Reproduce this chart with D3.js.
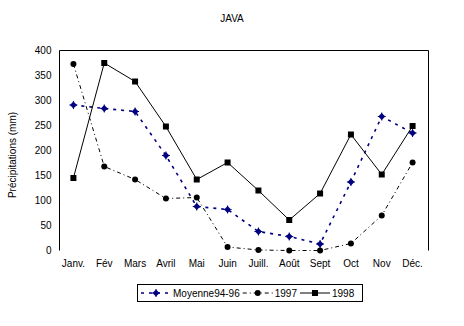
<!DOCTYPE html>
<html>
<head>
<meta charset="utf-8">
<script src="https://cdn.jsdelivr.net/npm/d3@7"></script>
<style>
	body { margin: 0; background: #fff; }
	svg { display: block; font-family: "Liberation Sans", Arial, sans-serif; }
	.axis text { font-size: 10px; fill: #000; }
</style>
</head>
<body>
<svg class="chart"></svg>
<script>
var width = 464,
	height = 326;

var months = ["Janv.", "Fév", "Mars", "Avril", "Mai", "Juin", "Juill.", "Août", "Sept", "Oct", "Nov", "Déc."];
var moyenne = [291, 284, 278, 190, 88, 82, 38, 28, 13, 137, 268, 235];
var y1997 = [373, 168, 142, 104, 106, 7, 1, 0, 0, 14, 70, 176];
var y1998 = [145, 375, 338, 248, 142, 176, 120, 61, 114, 232, 152, 249];
var yTicks = [0, 50, 100, 150, 200, 250, 300, 350, 400];

var plotLeft = 59.5, plotRight = 428.5, plotTop = 50.5, plotBottom = 250.5;

var x = d3.scaleBand()
	.domain(months)
	.range([58, 428]);

var y = d3.scaleLinear()
	.domain([0, 400])
	.range([plotBottom, plotTop]);

var chart = d3.select(".chart")
	.attr("width", width)
	.attr("height", height);

chart.append("text")
	.attr("x", 232)
	.attr("y", 22)
	.attr("text-anchor", "middle")
	.style("font-size", "10px")
	.text("JAVA");

// frame: top, left, right only
chart.append("path")
	.attr("d", "M" + plotLeft + "," + plotBottom + "V" + plotTop + "H" + plotRight + "V" + plotBottom)
	.attr("fill", "none")
	.attr("stroke", "#000");

chart.append("g")
	.attr("class", "axis")
	.attr("transform", "translate(" + plotLeft + ",0)")
	.call(d3.axisLeft(y).tickValues(yTicks).tickSize(0).tickPadding(8))
	.call(function(g) { g.select(".domain").remove(); });

chart.append("g")
	.attr("class", "axis")
	.attr("transform", "translate(0," + plotBottom + ")")
	.call(d3.axisBottom(x).tickSize(0).tickPadding(9))
	.call(function(g) { g.select(".domain").remove(); });

chart.append("text")
	.attr("transform", "translate(16,155) rotate(-90)")
	.attr("text-anchor", "middle")
	.style("font-size", "10px")
	.text("Précipitations (mm)");

var series = [
	{ name: "Moyenne94-96", values: moyenne, color: "#000080", width: 1.6, dash: "3,5", marker: "diamond" },
	{ name: "1997", values: y1997, color: "#000", width: 1, dash: "4,3,1,3", marker: "circle" },
	{ name: "1998", values: y1998, color: "#000", width: 1, dash: null, marker: "square" }
];

var line = d3.line()
	.x(function(d, i) { return x(months[i]) + x.bandwidth() / 2; })
	.y(function(d) { return y(d); });

function marker(g, type, color) {
	if (type == "circle") {
		g.append("circle").attr("r", 3).attr("fill", color);
	} else if (type == "square") {
		g.append("rect").attr("x", -3).attr("y", -3).attr("width", 6).attr("height", 6).attr("fill", color);
	} else {
		g.append("path").attr("d", "M0,-3.5L3.5,0L0,3.5L-3.5,0Z").attr("fill", color);
		g.append("path").attr("d", "M-4,0H4M0,-4V4").attr("stroke", color).attr("stroke-width", 1);
	}
}

series.forEach(function(s) {
	chart.append("path")
		.datum(s.values)
		.attr("d", line)
		.attr("fill", "none")
		.attr("stroke", s.color)
		.attr("stroke-width", s.width)
		.attr("stroke-dasharray", s.dash);

	chart.selectAll(null)
		.data(s.values)
	  .enter().append("g")
		.attr("transform", function(d, i) { return "translate(" + (x(months[i]) + x.bandwidth() / 2) + "," + y(d) + ")"; })
		.each(function() { marker(d3.select(this), s.marker, s.color); });
});

// legend
var legend = chart.append("g");
legend.append("rect")
	.attr("x", 137.5)
	.attr("y", 284.5)
	.attr("width", 225)
	.attr("height", 17)
	.attr("fill", "#fff")
	.attr("stroke", "#000");

var lx = 141;
series.forEach(function(s) {
	var item = legend.append("g");
	item.append("line")
		.attr("x1", lx).attr("x2", lx + 30)
		.attr("y1", 293).attr("y2", 293)
		.attr("stroke", s.color)
		.attr("stroke-width", s.width)
		.attr("stroke-dasharray", s.dash);
	marker(item.append("g").attr("transform", "translate(" + (lx + 15) + ",293)"), s.marker, s.color);
	var t = item.append("text")
		.attr("x", lx + 32)
		.attr("y", 296.5)
		.style("font-size", "10px")
		.text(s.name);
	lx += 32 + t.node().getComputedTextLength() + 3;
});
</script>
</body>
</html>
